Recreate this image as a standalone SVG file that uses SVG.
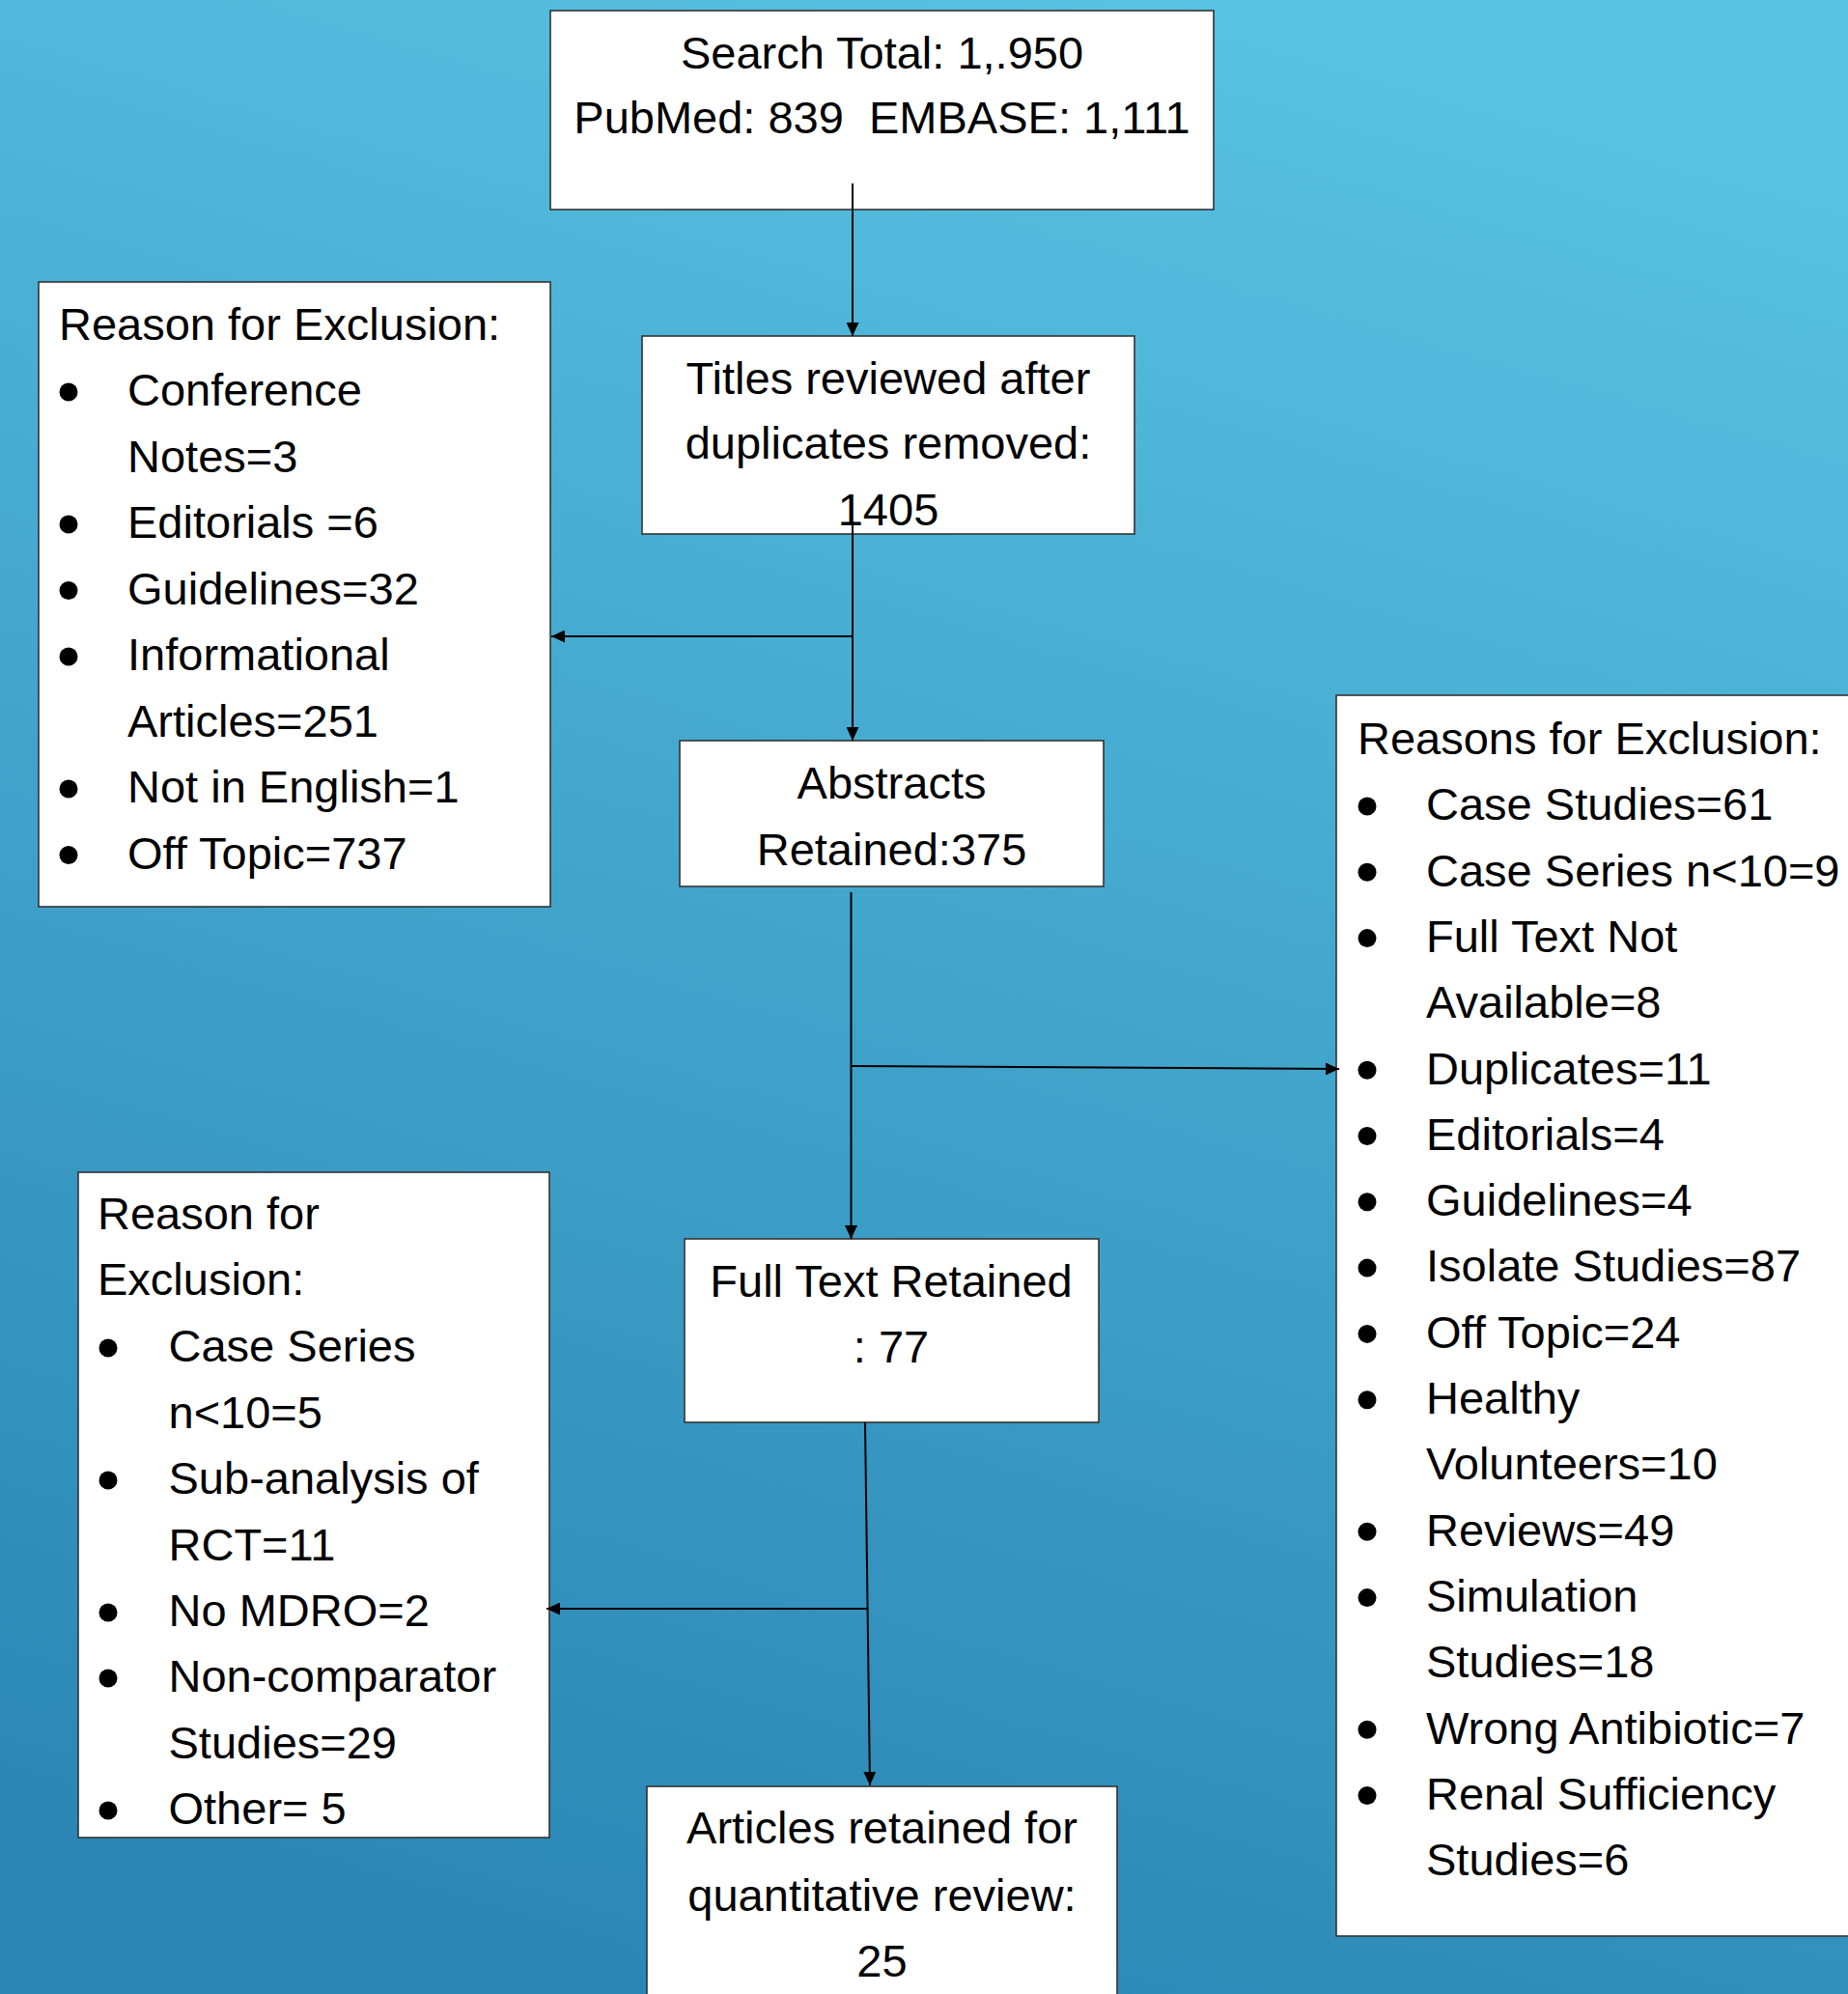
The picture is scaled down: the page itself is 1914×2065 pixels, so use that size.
<svg xmlns="http://www.w3.org/2000/svg" width="1914" height="2065" viewBox="0 0 1914 2065">
<defs>
<linearGradient id="bg" gradientUnits="userSpaceOnUse" x1="1250" y1="0" x2="650" y2="2065">
<stop offset="0" stop-color="#57C2E1"/>
<stop offset="1" stop-color="#2B86B5"/>
</linearGradient>
<marker id="arr" markerUnits="userSpaceOnUse" markerWidth="14" markerHeight="13" refX="14" refY="6.5" orient="auto">
<path d="M0,0 L14,6.5 L0,13 z" fill="#000"/>
</marker>
<style>
.box{fill:#fff;stroke:#333;stroke-width:1.6}
.t{font-family:"Liberation Sans",Arial,sans-serif;font-size:47px;fill:#000}
.c{text-anchor:middle}
.b{fill:#000}
.ln{stroke:#000;stroke-width:2;fill:none;marker-end:url(#arr)}
</style>
</defs>
<rect x="0" y="0" width="1914" height="2065" fill="url(#bg)"/>

<g id="search-total">
<rect class="box" x="570" y="11" width="687" height="206"/>
<text class="t c" x="913.5" y="71">Search Total: 1,.950</text>
<text class="t c" x="913.5" y="138" style="white-space:pre">PubMed: 839  EMBASE: 1,111</text>
</g>

<g id="titles-reviewed">
<rect class="box" x="665" y="348" width="510" height="205"/>
<text class="t c" x="920" y="408">Titles reviewed after</text>
<text class="t c" x="920" y="475">duplicates removed:</text>
<text class="t c" x="920" y="544">1405</text>
</g>

<g id="exclusion-titles">
<rect class="box" x="40" y="292" width="530" height="647"/>
<text class="t" x="61" y="351.5">Reason for Exclusion:</text>
<circle class="b" cx="71" cy="406" r="9.5"/>
<text class="t" x="132" y="420">Conference</text>
<text class="t" x="132" y="488.5">Notes=3</text>
<circle class="b" cx="71" cy="543" r="9.5"/>
<text class="t" x="132" y="557">Editorials =6</text>
<circle class="b" cx="71" cy="611.5" r="9.5"/>
<text class="t" x="132" y="625.5">Guidelines=32</text>
<circle class="b" cx="71" cy="680" r="9.5"/>
<text class="t" x="132" y="694">Informational</text>
<text class="t" x="132" y="762.5">Articles=251</text>
<circle class="b" cx="71" cy="817" r="9.5"/>
<text class="t" x="132" y="831">Not in English=1</text>
<circle class="b" cx="71" cy="885.5" r="9.5"/>
<text class="t" x="132" y="899.5">Off Topic=737</text>
</g>

<g id="abstracts-retained">
<rect class="box" x="704" y="767" width="439" height="151"/>
<text class="t c" x="923.5" y="827">Abstracts</text>
<text class="t c" x="923.5" y="895.5">Retained:375</text>
</g>

<g id="exclusion-abstracts">
<rect class="box" x="1384" y="720" width="540" height="1285"/>
<text class="t" x="1406" y="781">Reasons for Exclusion:</text>
<circle class="b" cx="1416" cy="835" r="9.5"/>
<text class="t" x="1477" y="849.3">Case Studies=61</text>
<circle class="b" cx="1416" cy="903.3" r="9.5"/>
<text class="t" x="1477" y="917.6">Case Series n&lt;10=9</text>
<circle class="b" cx="1416" cy="971.6" r="9.5"/>
<text class="t" x="1477" y="985.9">Full Text Not</text>
<text class="t" x="1477" y="1054.2">Available=8</text>
<circle class="b" cx="1416" cy="1108.2" r="9.5"/>
<text class="t" x="1477" y="1122.5">Duplicates=11</text>
<circle class="b" cx="1416" cy="1176.5" r="9.5"/>
<text class="t" x="1477" y="1190.8">Editorials=4</text>
<circle class="b" cx="1416" cy="1244.8" r="9.5"/>
<text class="t" x="1477" y="1259.1">Guidelines=4</text>
<circle class="b" cx="1416" cy="1313.1" r="9.5"/>
<text class="t" x="1477" y="1327.4">Isolate Studies=87</text>
<circle class="b" cx="1416" cy="1381.4" r="9.5"/>
<text class="t" x="1477" y="1395.7">Off Topic=24</text>
<circle class="b" cx="1416" cy="1449.7" r="9.5"/>
<text class="t" x="1477" y="1464">Healthy</text>
<text class="t" x="1477" y="1532.3">Volunteers=10</text>
<circle class="b" cx="1416" cy="1586.3" r="9.5"/>
<text class="t" x="1477" y="1600.6">Reviews=49</text>
<circle class="b" cx="1416" cy="1654.6" r="9.5"/>
<text class="t" x="1477" y="1668.9">Simulation</text>
<text class="t" x="1477" y="1737.2">Studies=18</text>
<circle class="b" cx="1416" cy="1791.2" r="9.5"/>
<text class="t" x="1477" y="1805.5">Wrong Antibiotic=7</text>
<circle class="b" cx="1416" cy="1859.5" r="9.5"/>
<text class="t" x="1477" y="1873.8">Renal Sufficiency</text>
<text class="t" x="1477" y="1942.1">Studies=6</text>
</g>

<g id="full-text-retained">
<rect class="box" x="709" y="1283" width="429" height="190"/>
<text class="t c" x="923" y="1343">Full Text Retained</text>
<text class="t c" x="923" y="1411">: 77</text>
</g>

<g id="exclusion-fulltext">
<rect class="box" x="81" y="1214" width="488" height="689"/>
<text class="t" x="101" y="1272.7">Reason for</text>
<text class="t" x="101" y="1341.3">Exclusion:</text>
<circle class="b" cx="112" cy="1396" r="9.5"/>
<text class="t" x="174.5" y="1410">Case Series</text>
<text class="t" x="174.5" y="1478.5">n&lt;10=5</text>
<circle class="b" cx="112" cy="1533" r="9.5"/>
<text class="t" x="174.5" y="1547">Sub-analysis of</text>
<text class="t" x="174.5" y="1615.5">RCT=11</text>
<circle class="b" cx="112" cy="1670" r="9.5"/>
<text class="t" x="174.5" y="1684">No MDRO=2</text>
<circle class="b" cx="112" cy="1738" r="9.5"/>
<text class="t" x="174.5" y="1752">Non-comparator</text>
<text class="t" x="174.5" y="1820.5">Studies=29</text>
<circle class="b" cx="112" cy="1875" r="9.5"/>
<text class="t" x="174.5" y="1889">Other= 5</text>
</g>

<g id="articles-retained">
<rect class="box" x="670" y="1850" width="487" height="230"/>
<text class="t c" x="913.5" y="1909">Articles retained for</text>
<text class="t c" x="913.5" y="1979">quantitative review:</text>
<text class="t c" x="913.5" y="2047">25</text>
</g>

<g id="connectors">
<line class="ln" x1="883" y1="190" x2="883" y2="348"/>
<line class="ln" x1="883" y1="540" x2="883" y2="767"/>
<line class="ln" x1="883" y1="659" x2="571" y2="659"/>
<line class="ln" x1="881.5" y1="924" x2="881.5" y2="1283"/>
<line class="ln" x1="881.5" y1="1104" x2="1387" y2="1107"/>
<line class="ln" x1="896" y1="1473" x2="901" y2="1849"/>
<line class="ln" x1="899" y1="1666" x2="566" y2="1666"/>
</g>
</svg>
